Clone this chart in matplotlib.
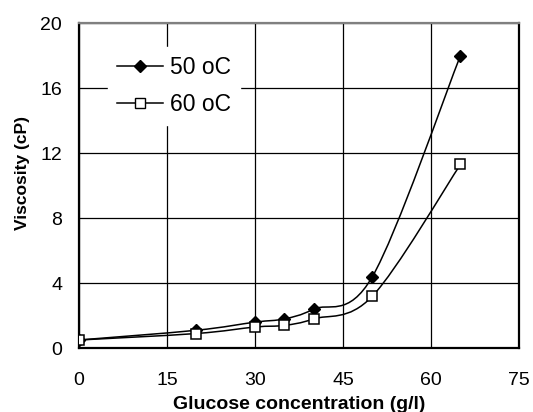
import numpy as np
import matplotlib
matplotlib.use('Agg')
import matplotlib.pyplot as plt
from matplotlib.path import Path
from matplotlib.patches import PathPatch

plt.rcParams['font.family'] = ['Liberation Sans', 'DejaVu Sans']

glucose = [0, 20, 30, 35, 40, 50, 65]
visc_50 = [0.5, 1.1, 1.6, 1.8, 2.4, 4.4, 18.0]
visc_60 = [0.5, 0.9, 1.3, 1.4, 1.8, 3.2, 11.3]


def smooth_path(x, y):
    # Excel-like smoothed line: cubic bezier through the points
    pts = np.column_stack([x, y]).astype(float)
    n = len(pts)
    verts = [pts[0]]
    codes = [Path.MOVETO]
    for i in range(n - 1):
        p0 = pts[i - 1] if i > 0 else pts[i]
        p1 = pts[i]
        p2 = pts[i + 1]
        p3 = pts[i + 2] if i + 2 < n else pts[i + 1]
        c1 = p1 + (p2 - p0) / 6.0
        c2 = p2 - (p3 - p1) / 6.0
        verts += [c1, c2, p2]
        codes += [Path.CURVE4] * 3
    return Path(verts, codes)


fig = plt.figure(figsize=(5.33, 4.12), dpi=100)
ax = fig.add_axes([0.148, 0.155, 0.826, 0.789])

for ys in (visc_50, visc_60):
    ax.add_patch(PathPatch(smooth_path(glucose, ys), facecolor='none',
                           edgecolor='black', lw=1.1, zorder=3))

ax.plot(glucose, visc_50, ls='none', marker='D', ms=6.5, mfc='black',
        mec='black', zorder=4)
ax.plot(glucose, visc_60, ls='none', marker='s', ms=6.5, mfc='white',
        mec='black', mew=1.1, zorder=4)

# legend handles
h1, = ax.plot([], [], color='black', lw=1.1, marker='D', ms=6.5,
              mfc='black', mec='black', label='50 oC')
h2, = ax.plot([], [], color='black', lw=1.1, marker='s', ms=6.5,
              mfc='white', mec='black', label='60 oC')
leg = ax.legend(handles=[h1, h2], loc='upper left',
                bbox_to_anchor=(0.066, 0.926), borderaxespad=0,
                frameon=True, fancybox=False,
                edgecolor='white', framealpha=1, fontsize=16.5,
                handlelength=2.0, handletextpad=0.3, borderpad=0.4,
                labelspacing=0.6)
leg.set_zorder(5)

ax.set_xlim(0, 75)
ax.set_ylim(0, 20)
ax.set_xticks([0, 15, 30, 45, 60, 75])
ax.set_yticks([0, 4, 8, 12, 16, 20])
ax.grid(True, color='black', lw=0.9)
ax.set_axisbelow(True)
ax.tick_params(axis='both', length=0, labelsize=14)
ax.tick_params(axis='x', pad=17)
ax.tick_params(axis='y', pad=12)

for side in ('left', 'bottom', 'right'):
    ax.spines[side].set_linewidth(1.6)
    ax.spines[side].set_color('black')
ax.spines['top'].set_color('#808080')
ax.spines['top'].set_linewidth(1.6)

ax.set_xlabel('Glucose concentration (g/l)', fontsize=14,
              fontweight='bold')
ax.set_ylabel('Viscosity (cP)', fontsize=12.5, fontweight='bold')
ax.xaxis.set_label_coords(0.5, -0.148)
ax.yaxis.set_label_coords(-0.111, 0.54)

fig.savefig('out.png', dpi=100)
